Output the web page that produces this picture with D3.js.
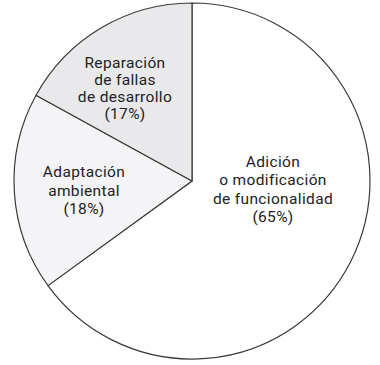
<!DOCTYPE html>
<html><head><meta charset="utf-8">
<script src="https://cdn.jsdelivr.net/npm/d3@7/dist/d3.min.js"></script>
<style>html,body{margin:0;padding:0;background:#fff;}svg{display:block;}</style>
</head><body>
<svg id="chart" width="380" height="365"></svg>
<script>
const categories = ["Adición o modificación de funcionalidad", "Adaptación ambiental", "Reparación de fallas de desarrollo"];
const values = [65, 18, 17];
const labelLines = [
  ["Adición", "o modificación", "de funcionalidad", "(65%)"],
  ["Adaptación", "ambiental", "(18%)"],
  ["Reparación", "de fallas", "de desarrollo", "(17%)"]
];
const fills = ["#ffffff", "#f4f4f6", "#e9e9eb"];
// layout: label block center x, first baseline y, line pitch
const labelPos = [[273, 167, 18.4], [84, 177, 18.5], [125, 67.5, 17.3]];

const svg = d3.select("#chart");
const cx = 192, cy = 181, R = 178;
const g = svg.append("g").attr("transform", `translate(${cx},${cy})`);
const pie = d3.pie().sort(null).value(d => d)(values);
const arc = d3.arc().innerRadius(0).outerRadius(R);

g.selectAll("path.slice").data(pie).enter().append("path")
  .attr("class", "slice")
  .attr("d", arc)
  .attr("fill", (d, i) => fills[i])
  .attr("stroke", "#3a3a3a")
  .attr("stroke-width", 1.2)
  .attr("stroke-linejoin", "round");

labelLines.forEach((lines, i) => {
  const [x, y, dy] = labelPos[i];
  const t = svg.append("text")
    .attr("text-anchor", "middle")
    .attr("font-family", "Roboto, sans-serif")
    .attr("font-size", 15.5)
    .attr("letter-spacing", 0.35)
    .attr("fill", "#222");
  lines.forEach((ln, j) => {
    t.append("tspan").attr("x", x).attr("y", y + j * dy).text(ln);
  });
});
</script>
</body></html>
